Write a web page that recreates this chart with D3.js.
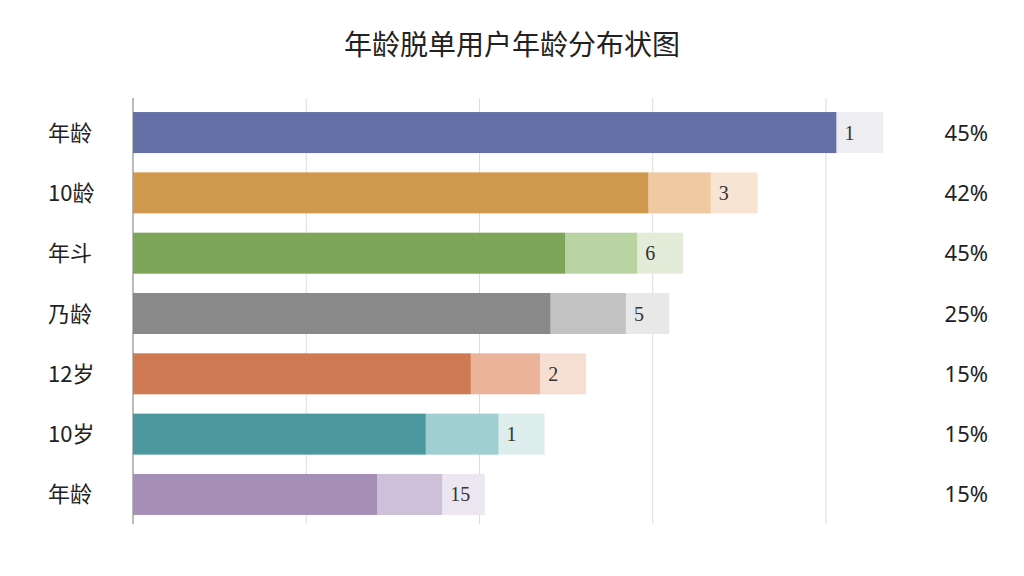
<!DOCTYPE html><html><head><meta charset="utf-8"><script src="https://cdn.jsdelivr.net/npm/d3@7"></script>
<style>body{margin:0;background:#fff}</style></head><body><svg id="c" width="1024" height="576"></svg>
<script>
const categories=["年龄","10龄","年斗","乃龄","12岁","10岁","年龄"];
const mainVals=[81.2,59.5,49.9,48.2,39,33.8,28.2];
const lightVals=[0,7.2,8.3,8.7,8,8.4,7.5];
const paleVals=[5.4,5.4,5.3,5,5.3,5.3,4.9];
const barLabels=["1","3","6","5","2","1","15"];
const pctLabels=["45%","42%","45%","25%","15%","15%","15%"];
const ticks=[0,20,40,60,80];
const dark=["#6470a6","#d0984c","#7ea659","#898989","#cf7a52","#4b999f","#a68fb7"];
const light=["#6470a6","#efc9a0","#b9d3a3","#c2c2c2","#eab39a","#9fcfd0","#cfc0da"];
const pale=["#eeeef2","#f7e4d2","#e2ecd8","#e8e8e8","#f6dfd2","#dcedec","#ece6f0"];
const svg=d3.select("#c");
const x=d3.scaleLinear().domain([0,80]).range([133,826]);
const y=d3.scaleBand().domain(d3.range(7)).range([103,524]).paddingInner(0.32).paddingOuter(0.15);
svg.append("text").attr("x",512).attr("y",55).attr("text-anchor","middle").attr("font-family","Noto Sans CJK SC").attr("font-size",28).attr("fill","#222").text("年龄脱单用户年龄分布状图");
svg.selectAll(".g").data(ticks).join("line").attr("x1",d=>x(d)).attr("x2",d=>x(d)).attr("y1",98).attr("y2",524).attr("stroke",(d,i)=>i==0?"#bbb":"#ddd").attr("stroke-width",(d,i)=>i==0?2:1);
const rows=svg.selectAll(".r").data(categories).join("g");
rows.append("rect").attr("x",(d,i)=>x(mainVals[i]+lightVals[i])).attr("width",(d,i)=>x(paleVals[i])-x(0)).attr("y",(d,i)=>y(i)).attr("height",y.bandwidth()).attr("fill",(d,i)=>pale[i]);
rows.append("rect").attr("x",(d,i)=>x(mainVals[i])).attr("width",(d,i)=>x(lightVals[i])-x(0)).attr("y",(d,i)=>y(i)).attr("height",y.bandwidth()).attr("fill",(d,i)=>light[i]);
rows.append("rect").attr("x",x(0)).attr("width",(d,i)=>x(mainVals[i])-x(0)).attr("y",(d,i)=>y(i)).attr("height",y.bandwidth()).attr("fill",(d,i)=>dark[i]);
rows.append("text").attr("x",(d,i)=>x(mainVals[i]+lightVals[i])+8).attr("y",(d,i)=>y(i)+y.bandwidth()/2+7).attr("font-family","Liberation Serif").attr("font-size",20).attr("fill","#333").text((d,i)=>barLabels[i]);
rows.append("text").attr("x",48).attr("y",(d,i)=>y(i)+y.bandwidth()/2+8).attr("font-family","Noto Sans CJK SC").attr("font-size",22).attr("fill","#222").text(d=>d);
rows.append("text").attr("x",988).attr("y",(d,i)=>y(i)+y.bandwidth()/2+8).attr("text-anchor","end").attr("font-family","Noto Sans").attr("font-size",22).attr("fill","#222").text((d,i)=>pctLabels[i]);
</script></body></html>
